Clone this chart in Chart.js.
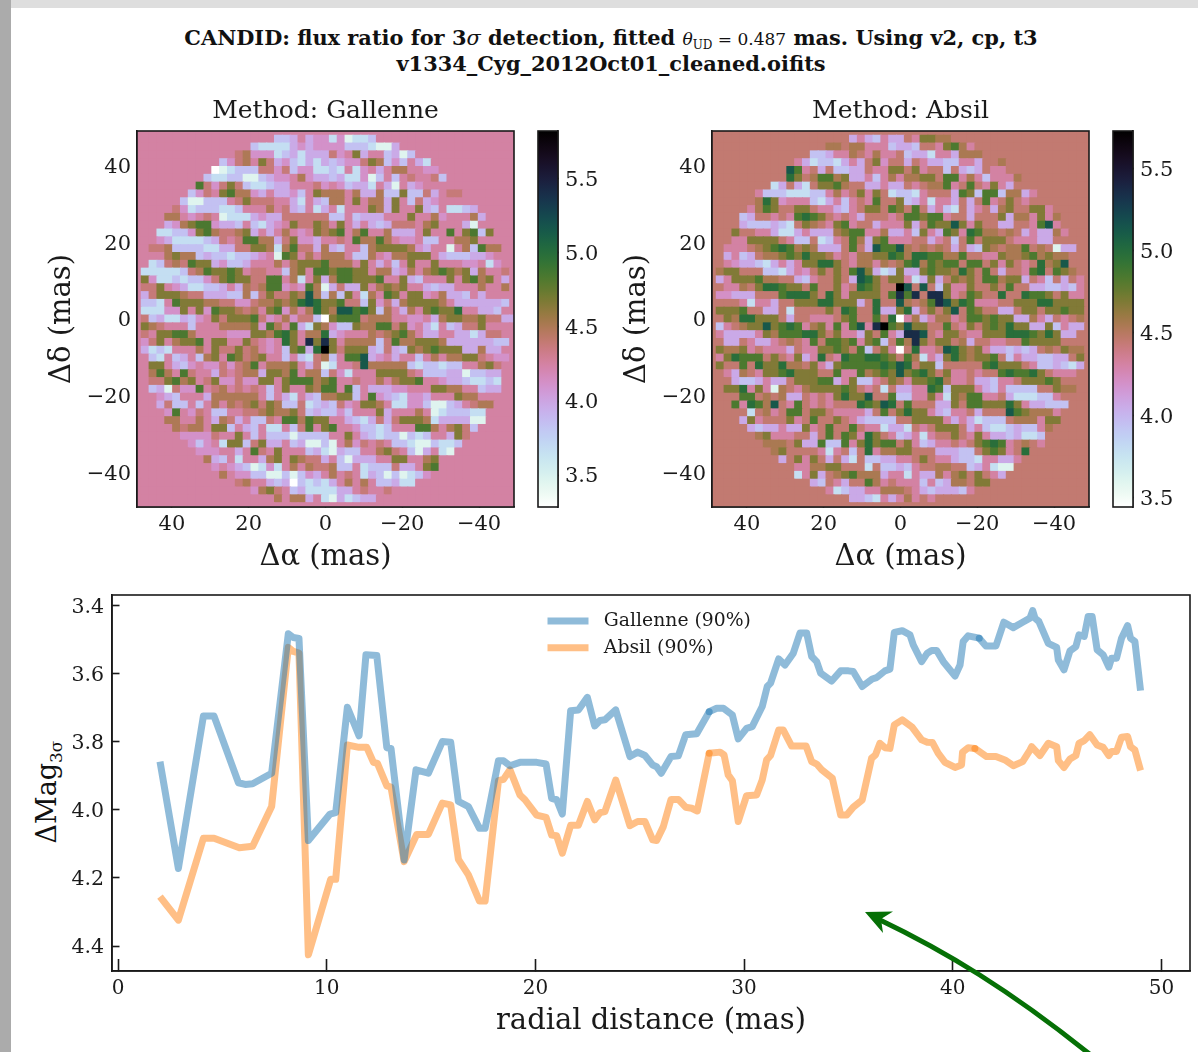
<!DOCTYPE html>
<html><head><meta charset="utf-8">
<script src="https://cdn.jsdelivr.net/npm/chart.js@4"></script>
<style>
html,body{margin:0;padding:0;background:#fff;width:1198px;height:1052px;overflow:hidden;font-family:"DejaVu Serif",serif;color:#111}
canvas{position:absolute;display:block}
#leftBand{position:absolute;left:0;top:0;width:11px;height:1052px;background:#ababab}
#topBand{position:absolute;left:11px;top:0;width:1187px;height:8px;background:#dedede}
.t{position:absolute;left:11px;width:1200px;text-align:center;font-weight:bold;font-size:20.9px;line-height:26px;white-space:nowrap}
.t i,.t span{font-weight:normal}
#ylab{position:absolute;left:46px;top:792px;font-size:27px;white-space:nowrap;transform:translate(-50%,-50%) rotate(-90deg)}
#ylab sub{font-size:17px;vertical-align:-6px;line-height:0}
svg{position:absolute;left:0;top:0}
</style></head><body>
<div id="leftBand"></div><div id="topBand"></div>
<div class="t" style="top:25px;left:11px">CANDID: flux ratio for 3<i>σ</i> detection, fitted <span style="font-size:17px"><i>θ</i><sub style="font-size:12px">UD</sub> = 0.487</span> mas. Using v2, cp, t3</div>
<div class="t" style="top:51px;left:11px">v1334_Cyg_2012Oct01_cleaned.oifits</div>
<div id="ylab">ΔMag<sub>3σ</sub></div>
<canvas id="panelA" width="571" height="480" style="left:40px;top:95px"></canvas>
<canvas id="panelB" width="571" height="480" style="left:615px;top:95px"></canvas>
<canvas id="barA" width="80" height="400" style="left:530px;top:120px"></canvas>
<canvas id="barB" width="80" height="400" style="left:1105px;top:120px"></canvas>
<canvas id="lines" width="1186" height="462" style="left:12px;top:590px"></canvas>
<svg width="1198" height="1052"><path d="M878 919 C 945 951 1010 990 1092 1056" fill="none" stroke="#067006" stroke-width="5"/><path d="M865 912 L893 911.5 L881 919 L883 933 Z" fill="#067006"/></svg>
<script>
const SERIF='"DejaVu Serif",serif', INK='#1a1a1a';
// Cell symbols -> detection magnitude
const gallenneLevels={'0':3.28,'1':3.46,'2':3.67,'3':3.84,'4':3.97,'5':4.12,'.':4.25,'6':4.38,'7':4.5,'8':4.66,'9':4.84,a:4.98,b:5.16,c:5.42,d:5.82};
const absilLevels={'0':3.44,'1':3.60,'2':3.78,'3':3.94,'4':4.06,'5':4.20,p:4.31,'.':4.45,'7':4.55,'8':4.68,'9':4.84,a:4.98,b:5.13,c:5.36,d:5.73};
const gallenneRange=[3.284,5.824], absilRange=[3.44,5.73];
const gallenneBarTicks=[3.5,4,4.5,5,5.5], absilBarTicks=[3.5,4,4.5,5,5.5];
const mapTicks=[40,20,0,-20,-40];
const radialTicks=[0,10,20,30,40,50], magTicks=[3.4,3.6,3.8,4.0,4.2,4.4];
// Rows top to bottom, "first column|cells"
const gallenneRows=["0|","18|334.455251223","15|3222245455553332114","13|67555234244465.84..3413","11|3567.8645324243455687353.42","10|01233366563552232.25.4.77..55","9|32233113455.75443422513.3.6..63","8|965686322344...65.53442.41.45","7|356.897754.4453.8777.74473383364.66","6|311333.68666..42.4377.8.7748.3645","5|652333223...7.643.24.2...8748..843.2234","4|77.5.6.1222454466666633.3444...8..75...74","4|4578995443.3245.86687.8.4.434666.78...41.","3|2233589766784.4.7.5.8789.79..7444.8..9.8938","3|542222346.69977468554..6.97797.55.33..778.","2|6673333224466887279664743..378888754..1.73977","2|..7877343323345.198.7.777.337.577888.4333445","2|2367698845334...7.78889777.8.4.3.8..8...55.25","1|2222236798898.66..378.9989988.77457.78987847..6","1|852232335689886699.72.847998889..843...8.8978.4","1|668.5422334.4767995.597146448.7878..4344...7..7","1|468887664443373686687b73738.27.98.885.7443.4","1|332.9888776655677878aba8896638564788887.4444443","1|222558.85988767.8957.7a87bb9a837.47.8988a..443.","1|63422435.86888965.75663089996777..55.47887786644","1|876...3...77778597.9428753387799685.42.34668","1|6.88997....5558879a8.77a45...767897.44..442466.","1|568.7889.88..86.5.a8.c8c8.777736977888744444433","1|4232...7.866867.5.3894ad8688843643878988844744","1|.32.34.378.98678..3.32673.99b45.4..3.7.77886.55","1|.88.435.5565679.7778.4612..6b777773233233..786","2|797.96..46.67748879.773652...88886.3334413344","2|668978.685565588.8999789..6..7.7889..54432232","2|3416559.67.6.6.3.8..8799.93.44455...8877..344","3|543...4777777.3.42.4377883.95432554...877","3|4633.3.7.7678687336234365.887.225531134.677","4|59.56.33..66787786343353...84...7.1233322","4|77..7.4764.336.997988..432464688872444411","5|7677.883.43.22.369.89..53323...997.7863","6|55556..8.3.33313333..8.432331323..486","7|535.28836844.341131.756.6.332113223","8|555..4.96.8...3421433..786.314.21","9|743.2..478.87664.31444..88..78","10|5.5431252.7.766733.2333644.89","11|7.55331131354.7.6.243131235","13|67..434032324.7.7.33422","15|5786.34222244.6..6","18|7.774.2142344","0|"];
const absilRows=["0|","18|4p43p44.p8877","15|77.77ppp3443..p897p","13|334pp7.p7pp.3442pp4777","11|p423324p4.85..4.p4433pp4..7","10|b9p.4.3344.pp88.8p..3.434.pp","10|a8.7997844p3p7p7788.99p7p3ppp7","8|24.42.8897..44p44.p.779p.9.p8p4","6|p33322233p7p.8p8.2332p...4983993774p","6|7a85ppp324p3p.p9..834p2pp4.4.9p.8.p..","5|p798..88.pp43p.88.98.9.4p32.4p.478..88p","4|34..p.p9a98.p.p4...p.99899p..4...8477p8p7","4|4333432.87.p89p..4ppp84.988b8p8..44..p9bp","3|8..pp4224p4447899pp744p38p498pa977.7.4p447p","3|pp8888.p33.23p.97489ppp..4p.3.9.888.ppp44.","2|ppp.789a9787444.9.4b99b7.7.7.4.4387.779.7.144","2|4p34.77898a887p.p7788a97aa99779..pp877897877","2|p544324p4p88aa8.p77p7.79a79899.99.8p8.p.a78b","1|788...3324p5.8.8.9b842384489887a8.9.4..p9a.987","1|4p888977..43p..8.4ba8.88p2484.878.997884.p3.4.p","1|.pp7.8aa988.9..8p.a98..db.b.38pp8..8.9..443343p","1|55444...9aaa8.a8p8888.9c9c.cc8p.98..a..a998.8pp","1|...p2pp4..888aa8884.a..b7.79cb8a9ppp..888aa8888","1|8889..44.2....8.a9..a448a4.8.8b.98..44.88.88988","1|.87aa888.4..ppp.89..9.a0p74p77p.998988447p4.p.7","1|3p.788b89a9p78p9p9bpcd98b88..9.p8.898a884483p44","1|p4444p87999aa8.8pp48.9p4ccb.p88.pp888aaa98a844.","2|44.p44p.7.p9.9989p893.97c8.88.74..pp..98888...","1|8778p.ppp4.pp8898.93.8p0.app.ba878p443434.7.877","1|p8a999.8.p84pa.pa99aa98.972p48a87889.3p443344.8","1|8..9.a88a77.8p4899999a9ba.883.....9a888.p334324","2|p47.p889a888..9pp97898b89a8.8pp.p..9a99a8.ppp","2|.4334p44.888994p833p.87p889a7pp.443pp.88898..","2|88ap8p17.p7888898.p.2.44ppa93888p43p3333..877","3|.99.7.744.p.p8a88b..933pp8p28799pp.422233p.","3|9pa97b.p9.p.p...a98ba.9...448.99888a8p44333","4|.2.7p.99.88.pppp4.9.8a88p43pp.4...b98777p","4|48p...8p.9..8.p43333..8888p4p42333.777p88","5|4344p448p.9..9.pp2442.p.888.4p3223433p7","6|78ppp..4.9.98pa8.p34p2p..8.p8p4434223","7|777.8449339p8a899.8p34pp.p.89a9p.7.p","8|78....p2p.3.ap7788...44433.898p.a","9|4.8p8.4.42.3344pp.8.pp4332pp44p","11|pp7788...2.3343p..77..34p211","11|2p84.7897774pp2p447p78.8.p4","13|43.p4..97p.ppp3p3477.88","15|p2344pp777.p434443p","18|4432p4p7p.p","0|"];
// Radial profiles (radial distance in mas, detection magnitude)
const gallenneR=[2.01,2.89,4.09,4.6,5.77,6.09,6.45,7.36,8.16,8.4,8.67,9.12,10.16,10.43,10.99,11.55,11.88,12.4,12.88,13.08,13.71,14.28,14.87,15.54,15.94,16.31,16.79,17.32,17.59,18.23,18.47,18.78,19.26,20.06,20.51,20.78,21.02,21.29,21.69,22.06,22.49,22.84,23.1,23.33,23.85,24.53,24.9,25.25,25.62,25.81,26.03,26.5,26.85,27.2,27.73,28.33,28.69,29.01,29.44,29.72,30.12,30.39,30.87,31.11,31.27,31.66,31.96,32.36,32.68,33,33.24,33.48,33.67,34.2,34.63,35,35.23,35.66,36.14,36.35,36.75,36.99,37.2,37.58,37.95,38.11,38.51,38.78,38.99,39.23,39.55,40.11,40.35,40.5,40.74,41.27,41.59,42.07,42.45,42.9,43.35,43.7,43.83,43.94,44.13,44.58,44.98,45.06,45.33,45.62,45.9,46.05,46.3,46.49,46.68,46.92,47.21,47.48,47.61,47.85,48.09,48.38,48.52,48.73,49];
const gallenneMag=[3.858,4.172,3.724,3.724,3.92,3.925,3.923,3.892,3.482,3.493,3.496,4.09,4.012,4.008,3.698,3.782,3.544,3.546,3.817,3.819,4.147,3.882,3.892,3.799,3.801,3.975,3.99,4.054,4.054,3.855,3.855,3.87,3.86,3.86,3.865,3.966,3.97,4.012,3.708,3.706,3.669,3.753,3.737,3.735,3.706,3.843,3.83,3.84,3.868,3.873,3.892,3.843,3.841,3.779,3.776,3.711,3.701,3.701,3.721,3.791,3.76,3.755,3.696,3.637,3.627,3.556,3.574,3.539,3.48,3.48,3.549,3.564,3.598,3.621,3.591,3.591,3.593,3.637,3.615,3.611,3.591,3.586,3.478,3.473,3.485,3.515,3.564,3.539,3.531,3.531,3.564,3.606,3.574,3.505,3.488,3.495,3.518,3.518,3.448,3.464,3.448,3.436,3.414,3.436,3.446,3.51,3.522,3.559,3.588,3.532,3.52,3.485,3.49,3.431,3.431,3.529,3.544,3.58,3.554,3.554,3.495,3.458,3.495,3.505,3.649];
const absilR=[2.01,2.89,4.09,4.6,5.81,6.45,7.36,8.16,8.4,8.67,9.12,10.19,10.43,10.99,11.55,11.92,12.24,12.43,12.88,13.08,13.71,14.31,14.87,15.54,15.94,16.31,16.79,17.32,17.59,18.23,18.47,18.78,19.26,19.5,20.06,20.51,20.78,21.02,21.29,21.69,22.06,22.49,22.84,23.1,23.33,23.85,24.53,24.9,25.25,25.62,25.81,26.13,26.5,26.85,27.2,27.49,27.76,28.33,28.85,29.04,29.24,29.44,29.72,30.12,30.6,30.87,31.08,31.27,31.66,31.88,32.28,32.97,33.24,33.48,33.72,34.23,34.63,34.92,35.23,35.66,36.11,36.3,36.51,36.75,36.99,37.2,37.58,38.06,38.51,38.78,39.03,39.3,39.63,40.11,40.42,40.47,40.74,41.06,41.62,42.07,42.5,42.9,43.35,43.7,43.78,44.18,44.58,44.98,45.06,45.33,45.62,45.9,46.05,46.3,46.57,46.92,47.21,47.48,47.61,47.85,48.09,48.38,48.52,48.73,49];
const absilMag=[4.255,4.324,4.083,4.083,4.111,4.107,3.99,3.522,3.534,3.539,4.426,4.204,4.204,3.809,3.816,3.816,3.86,3.863,3.929,3.933,4.152,4.072,4.072,3.98,3.985,4.145,4.191,4.268,4.268,3.914,3.91,3.882,3.956,3.97,4.015,4.022,4.074,4.076,4.127,4.045,4.045,3.975,4.029,4.008,4.005,3.912,4.046,4.034,4.034,4.088,4.09,4.049,3.969,3.969,3.992,3.995,4.003,3.833,3.83,3.838,3.897,3.914,4.034,3.958,3.956,3.912,3.853,3.84,3.765,3.765,3.812,3.812,3.858,3.865,3.882,3.907,4.015,4.015,3.992,3.971,3.848,3.838,3.804,3.817,3.819,3.75,3.735,3.757,3.794,3.801,3.802,3.833,3.86,3.875,3.868,3.83,3.817,3.819,3.843,3.843,3.853,3.87,3.858,3.824,3.814,3.84,3.804,3.814,3.855,3.875,3.85,3.84,3.804,3.796,3.779,3.809,3.816,3.84,3.828,3.828,3.786,3.784,3.814,3.824,3.884];
const gallenneSpots=[{x:28.33,y:3.711},{x:41.27,y:3.495}], absilSpots=[{x:28.33,y:3.833},{x:41.06,y:3.819}];

function helix(t){ // cubehelix_r colour map
  const x=1-Math.min(1,Math.max(0,t)), a=x*(1-x)/2, phi=2*Math.PI*(0.5/3-1.5*x), c=Math.cos(phi), s=Math.sin(phi);
  const ch=v=>Math.round(255*Math.min(1,Math.max(0,v)));
  return `rgb(${ch(x+a*(-0.14861*c+1.78277*s))},${ch(x+a*(-0.29227*c-0.90649*s))},${ch(x+a*1.97294*c)})`;
}
const frame={id:'frame',afterDatasetsDraw(ch){const a=ch.chartArea,c=ch.ctx;c.save();c.strokeStyle=INK;c.lineWidth=1.6;c.strokeRect(a.left,a.top,a.right-a.left,a.bottom-a.top);c.restore();}};
// canvas text centres digits slightly high: nudge y-axis labels onto their ticks
const labelNudge={id:'labelNudge',beforeDraw(ch){const s=ch.scales.y;if(!s||s.$nudged)return;s.$nudged=true;s.getLabelItems(ch.chartArea).forEach(i=>{i.options.translation[1]+=2;});}};
// centre the panel title over its plot area, not over the layout box
const titleOverPlot={id:'titleOverPlot',beforeDraw(ch){const a=ch.chartArea,half=(a.right-a.left)/2+97;ch.titleBlock.left=(a.left+a.right)/2-half;ch.titleBlock.right=(a.left+a.right)/2+half;}};
const fixedTicks=(list)=>(s)=>{s.ticks=list.map(v=>({value:v}));};
const minus=v=>String(v).replace('-','\u2212');
const axisStyle=(size,len,pad,cb)=>({
  grid:{drawOnChartArea:false,drawTicks:true,tickLength:-len,tickWidth:1.6,tickColor:INK},
  border:{color:INK,width:1.6},
  ticks:{color:INK,font:{family:SERIF,size},padding:pad,maxRotation:0,autoSkip:false,callback:cb||minus}
});
function panel(id,title,rows,levels,range){
  const cols=49, step=98/(cols-1), pts=[], colors=[];
  rows.forEach((row,j)=>{
    const [s,t]=row.split('|');
    const cells=('.'.repeat(+s)+t).padEnd(cols,'.').slice(0,cols);
    [...cells].forEach((sym,i)=>{
      const v=levels[sym];
      pts.push({x:49-i*step,y:49-j*step});
      colors.push(helix((v-range[0])/(range[1]-range[0])));
    });
  });
  new Chart(document.getElementById(id),{type:'scatter',
    data:{datasets:[{data:pts,pointStyle:'rect',pointBackgroundColor:colors,pointBorderWidth:0,
      pointRadius(ctx){const x=ctx.chart.scales.x;return Math.abs(x.getPixelForValue(step)-x.getPixelForValue(0))/2*Math.SQRT2+0.75;}}]},
    plugins:[frame,labelNudge,titleOverPlot],
    options:{responsive:false,animation:false,devicePixelRatio:1,
      layout:{padding:{right:97}},
      plugins:{legend:{display:false},tooltip:{enabled:false},
        title:{display:true,text:title,color:INK,font:{family:SERIF,size:25,weight:'normal',lineHeight:1.2},padding:{top:1,bottom:5}}},
      scales:{
        x:{type:'linear',reverse:true,min:-49.1,max:49.1,...axisStyle(21,12,17),afterBuildTicks:fixedTicks(mapTicks),
          afterFit(s){s.height=68;s.paddingLeft=0;s.paddingRight=0;},
          title:{display:true,text:'Δα (mas)',color:INK,font:{family:SERIF,size:29,lineHeight:1.2},padding:{top:0,bottom:0}}},
        y:{type:'linear',min:-49.1,max:49.1,...axisStyle(21,8,14),afterBuildTicks:fixedTicks(mapTicks),
          afterFit(s){s.width=97;s.paddingTop=0;s.paddingBottom=0;},
          title:{display:true,text:'Δδ (mas)',color:INK,font:{family:SERIF,size:29,lineHeight:1.2},padding:{top:5,bottom:0}}}
      }}});
}
function colorbar(id,range,ticks){
  new Chart(document.getElementById(id),{type:'bar',
    data:{labels:['bar'],datasets:[{data:[range],categoryPercentage:1,barPercentage:1,borderWidth:0,
      backgroundColor(ctx){const a=ctx.chart.chartArea;if(!a)return '#888';
        const g=ctx.chart.ctx.createLinearGradient(0,a.bottom,0,a.top);
        for(let k=0;k<=64;k++)g.addColorStop(k/64,helix(k/64));return g;}}]},
    plugins:[frame,labelNudge],
    options:{responsive:false,animation:false,devicePixelRatio:1,
      layout:{padding:{left:8,top:11,bottom:13}},
      plugins:{legend:{display:false},tooltip:{enabled:false},title:{display:false}},
      scales:{
        x:{display:false},
        y:{type:'linear',position:'right',min:range[0],max:range[1],...axisStyle(21,7,14,v=>v.toFixed(1)),
          afterBuildTicks:fixedTicks(ticks),afterFit(s){s.width=52;s.paddingTop=0;s.paddingBottom=0;}}
      }}});
}
panel('panelA','Method: Gallenne',gallenneRows,gallenneLevels,gallenneRange);
colorbar('barA',gallenneRange,gallenneBarTicks);
panel('panelB','Method: Absil',absilRows,absilLevels,absilRange);
colorbar('barB',absilRange,absilBarTicks);
const zip=(xs,ys)=>xs.map((x,i)=>({x,y:ys[i]}));
const lineSet=(label,xs,ys,col)=>({label,data:zip(xs,ys),showLine:true,borderColor:col,backgroundColor:col,borderWidth:7,pointRadius:0,borderJoinStyle:'round',borderCapStyle:'butt',tension:0,fill:false});
const spotSet=(label,data,col)=>({label,data,showLine:false,pointRadius:3.5,pointBorderWidth:0,pointBackgroundColor:col});
const legendPlace={id:'legendPlace',beforeDraw(ch){ch.legend.left=527.5;ch.legend.top=13.5;}};
new Chart(document.getElementById('lines'),{type:'scatter',
  data:{datasets:[
    lineSet('Gallenne (90%)',gallenneR,gallenneMag,'rgba(31,119,180,0.5)'),
    lineSet('Absil (90%)',absilR,absilMag,'rgba(255,127,14,0.5)'),
    spotSet('g',gallenneSpots,'rgba(31,119,180,0.5)'),
    spotSet('a',absilSpots,'rgba(255,127,14,0.5)')]},
  plugins:[frame,legendPlace,labelNudge],
  options:{responsive:false,animation:false,devicePixelRatio:1,
    layout:{padding:{right:8,top:5}},
    plugins:{tooltip:{enabled:false},title:{display:false},
      legend:{position:'chartArea',align:'start',
        labels:{color:INK,font:{family:SERIF,size:18.8},boxWidth:41,boxHeight:7,padding:8,
          filter:i=>i.datasetIndex<2,
          generateLabels(ch){return ch.data.datasets.map((d,i)=>({text:'\u00A0'+d.label,fillStyle:d.borderColor,strokeStyle:d.borderColor,lineWidth:0,datasetIndex:i,fontColor:INK}));}}}},
    scales:{
      x:{type:'linear',min:-0.29,max:51.37,...axisStyle(20,12,18,v=>String(v)),afterBuildTicks:fixedTicks(radialTicks),
        afterFit(s){s.height=81;s.paddingLeft=0;s.paddingRight=0;},
        title:{display:true,text:'radial distance (mas)',color:INK,font:{family:SERIF,size:29,lineHeight:1.2},padding:{top:0,bottom:13}}},
      y:{type:'linear',reverse:true,min:3.368,max:4.4735,...axisStyle(20.5,7.5,15.5,v=>v.toFixed(1)),afterBuildTicks:fixedTicks(magTicks),
        afterFit(s){s.width=100;s.paddingTop=0;s.paddingBottom=0;}}
    }}});
</script>
</body></html>
